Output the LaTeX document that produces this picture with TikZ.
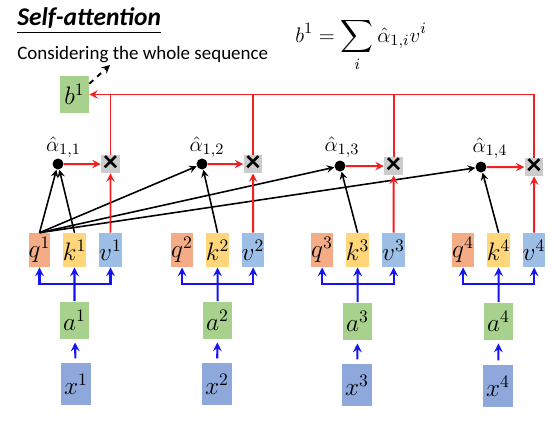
\documentclass[tikz,border=0pt]{standalone}
\usepackage{amsmath,amssymb}
\usepackage{fontspec}
\setmainfont{Carlito}
\usepackage{xcolor}
\definecolor{qcol}{HTML}{F4AC86}
\definecolor{kcol}{HTML}{FFD77A}
\definecolor{vcol}{HTML}{9DBFE6}
\definecolor{acol}{HTML}{A9D18E}
\definecolor{xcol}{HTML}{8FA8DC}
\definecolor{redline}{HTML}{F02020}
\definecolor{blueline}{HTML}{1414F0}

\begin{document}
\begin{tikzpicture}[scale=0.02,>=stealth]
\tikzstyle{every node}+=[inner sep=0pt]
\tikzstyle{box}=[minimum width=0.38cm,minimum height=0.68cm,font=\fontsize{14}{16}\selectfont]
\tikzstyle{qbox}=[box,fill=qcol]
\tikzstyle{kbox}=[box,fill=kcol]
\tikzstyle{vbox}=[box,fill=vcol]
\tikzstyle{abox}=[minimum width=0.58cm,minimum height=0.74cm,font=\fontsize{14}{16}\selectfont,fill=acol]
\tikzstyle{xbox}=[minimum width=0.6cm,minimum height=0.84cm,font=\fontsize{14}{16}\selectfont,fill=xcol]
\tikzstyle{dot}=[circle,fill=black,minimum size=0.22cm]
\tikzstyle{mul}=[minimum width=0.38cm,minimum height=0.36cm,fill=gray!40,font=\fontsize{17}{18}\selectfont\bfseries]
\tikzstyle{weight}=[font=\fontsize{13}{15}\selectfont]
\tikzstyle{score}=[line width=0.9pt,->]
\tikzstyle{sum}=[line width=1.1pt,redline]
\tikzstyle{feed}=[line width=1.2pt,blueline,->]
\useasboundingbox (0,0) rectangle (554,-425);

% title and formula
\node [anchor=west] (title) at (17,-21) {\fontsize{14.5}{16}\selectfont\bfseries\itshape\underline{Self-attention}};
\node [anchor=west] (note) at (17,-55) {\fontsize{10.8}{13}\selectfont Considering the whole sequence};
\node (formula) at (361,-45) {\fontsize{13}{15}\selectfont$\displaystyle b^1=\sum_i\hat{\alpha}_{1,i}v^i$};

% output
\node [abox] (b1) at (74.5,-94.5) {$b^1$};
\coordinate (look) at (110,-65);
\draw [line width=1.1pt,dashed,->] (b1.36) -- (look);

% inputs
\node [xbox] (x1) at (76,-384) {$x^1$};
\node [xbox] (x2) at (217,-384) {$x^2$};
\node [xbox] (x3) at (357,-385) {$x^3$};
\node [xbox] (x4) at (498,-386) {$x^4$};
\node [abox] (a1) at (74.5,-320) {$a^1$};
\node [abox] (a2) at (217.5,-320) {$a^2$};
\node [abox] (a3) at (357.5,-321) {$a^3$};
\node [abox] (a4) at (498.5,-321) {$a^4$};

% queries, keys, values
\node [qbox] (q1) at (39.5,-250) {$q^1$};
\node [kbox] (k1) at (74.5,-250) {$k^1$};
\node [vbox] (v1) at (110.5,-250) {$v^1$};
\node [qbox] (q2) at (182,-250) {$q^2$};
\node [kbox] (k2) at (217.5,-250) {$k^2$};
\node [vbox] (v2) at (253,-250) {$v^2$};
\node [qbox] (q3) at (322,-250) {$q^3$};
\node [kbox] (k3) at (357.5,-250) {$k^3$};
\node [vbox] (v3) at (393.5,-250) {$v^3$};
\node [qbox] (q4) at (463,-250) {$q^4$};
\node [kbox] (k4) at (498.5,-250) {$k^4$};
\node [vbox] (v4) at (534,-250) {$v^4$};

% attention scores
\node [dot] (al1) at (58,-164) {};
\node [dot] (al2) at (202,-164) {};
\node [dot] (al3) at (340,-166) {};
\node [dot] (al4) at (481,-167) {};
\node [weight] (lab1) at (63.5,-147) {$\hat{\alpha}_{1,1}$};
\node [weight] (lab2) at (207,-147) {$\hat{\alpha}_{1,2}$};
\node [weight] (lab3) at (342,-147) {$\hat{\alpha}_{1,3}$};
\node [weight] (lab4) at (490,-148) {$\hat{\alpha}_{1,4}$};
\node [mul] (m1) at (110.5,-164) {×};
\node [mul] (m2) at (253,-164) {×};
\node [mul] (m3) at (393.5,-166) {×};
\node [mul] (m4) at (534,-167) {×};

\draw [score] (q1.north) -- (al1);
\draw [score] (k1.north) -- (al1);
\draw [score] (q1.north) -- (al2);
\draw [score] (k2.north) -- (al2);
\draw [score] (q1.north) -- (al3);
\draw [score] (k3.north) -- (al3);
\draw [score] (q1.north) -- (al4);
\draw [score] (k4.north) -- (al4);

% weighted sum
\draw [sum,->] (al1) -- (m1);
\draw [sum,->] (al2) -- (m2);
\draw [sum,->] (al3) -- (m3);
\draw [sum,->] (al4) -- (m4);
\draw [sum,->] (v1) -- (m1);
\draw [sum,->] (v2) -- (m2);
\draw [sum,->] (v3) -- (m3);
\draw [sum,->] (v4) -- (m4);
\draw [sum,->] (m4.north) |- (b1.east);
\draw [sum] (m1.north) -- (m1.north |- b1.east);
\draw [sum] (m2.north) -- (m2.north |- b1.east);
\draw [sum] (m3.north) -- (m3.north |- b1.east);

% embeddings to q, k, v
\coordinate (s1) at (74.5,-284);
\coordinate (s2) at (217.5,-284);
\coordinate (s3) at (357.5,-284);
\coordinate (s4) at (498.5,-284);
\draw [feed] (a1) -- (k1);
\draw [feed] (s1) -| (q1);
\draw [feed] (s1) -| (v1);
\draw [feed] (a2) -- (k2);
\draw [feed] (s2) -| (q2);
\draw [feed] (s2) -| (v2);
\draw [feed] (a3) -- (k3);
\draw [feed] (s3) -| (q3);
\draw [feed] (s3) -| (v3);
\draw [feed] (a4) -- (k4);
\draw [feed] (s4) -| (q4);
\draw [feed] (s4) -| (v4);
\draw [feed,shorten <=2.5pt,shorten >=2pt] (x1) -- (a1);
\draw [feed,shorten <=2.5pt,shorten >=2pt] (x2) -- (a2);
\draw [feed,shorten <=2.5pt,shorten >=2pt] (x3) -- (a3);
\draw [feed,shorten <=2.5pt,shorten >=2pt] (x4) -- (a4);
\end{tikzpicture}
\end{document}
